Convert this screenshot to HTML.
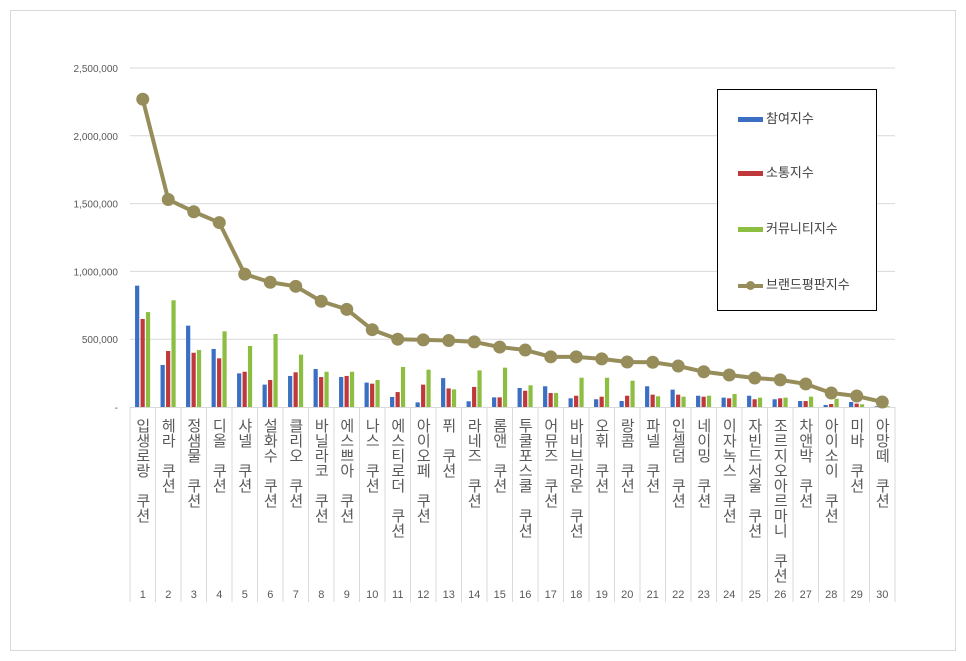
<!DOCTYPE html>
<html><head><meta charset="utf-8"><style>
html,body{margin:0;padding:0;background:#fff;}
body{width:966px;height:661px;overflow:hidden;font-family:"Liberation Sans","Noto Sans CJK KR",sans-serif;}
svg text{font-family:"Liberation Sans","Noto Sans CJK KR",sans-serif;}
.lab{position:absolute;top:418px;writing-mode:vertical-lr;text-orientation:upright;font-size:15px;line-height:18px;color:#595959;font-family:"Noto Sans CJK KR",sans-serif;letter-spacing:0px;width:18px;}
</style></head><body>
<div style="position:absolute;left:10px;top:10px;width:944px;height:639px;border:1px solid #d9d9d9;"></div>
<svg id="chart" width="966" height="661" style="position:absolute;left:0;top:0"></svg>
<div id="labels"></div>
<div style="position:absolute;left:717px;top:89px;width:158px;height:220px;border:1px solid #000;background:#fff;font-size:13px;color:#404040;font-family:'Liberation Sans','Noto Sans CJK KR',sans-serif;">
 <div style="position:absolute;left:20px;top:20px;height:18px;line-height:18px;"><span style="display:inline-block;width:25px;height:5px;background:#3a6fc4;vertical-align:middle;margin-right:3px"></span>참여지수</div>
 <div style="position:absolute;left:20px;top:74px;height:18px;line-height:18px;"><span style="display:inline-block;width:25px;height:5px;background:#c0393a;vertical-align:middle;margin-right:3px"></span>소통지수</div>
 <div style="position:absolute;left:20px;top:130px;height:18px;line-height:18px;"><span style="display:inline-block;width:25px;height:5px;background:#8cbe42;vertical-align:middle;margin-right:3px"></span>커뮤니티지수</div>
 <div style="position:absolute;left:20px;top:186px;height:18px;line-height:18px;"><span style="display:inline-block;position:relative;width:25px;height:4px;background:#978d5b;vertical-align:middle;margin-right:3px"><span style="position:absolute;left:8px;top:-3px;width:9px;height:9px;border-radius:50%;background:#978d5b"></span></span>브랜드평판지수</div>
</div>
<script>
const categories=["입생로랑 쿠션","헤라 쿠션","정샘물 쿠션","디올 쿠션","샤넬 쿠션","설화수 쿠션","클리오 쿠션","바닐라코 쿠션","에스쁘아 쿠션","나스 쿠션","에스티로더 쿠션","아이오페 쿠션","퓌 쿠션","라네즈 쿠션","롬앤 쿠션","투쿨포스쿨 쿠션","어뮤즈 쿠션","바비브라운 쿠션","오휘 쿠션","랑콤 쿠션","파넬 쿠션","인셀덤 쿠션","네이밍 쿠션","이자녹스 쿠션","자빈드서울 쿠션","조르지오아르마니 쿠션","차앤박 쿠션","아이소이 쿠션","미바 쿠션","아망떼 쿠션"];
const participation=[895000,310000,600000,428000,248000,165000,229000,280000,221000,180000,74000,34000,213000,42000,71000,140000,153000,64000,57000,44000,153000,128000,83000,69000,83000,57000,44000,15000,37000,5000];
const communication=[649000,413000,400000,359000,260000,199000,256000,221000,229000,172000,110000,165000,137000,148000,71000,120000,103000,83000,76000,83000,91000,91000,76000,64000,57000,64000,44000,22000,25000,4000];
const community=[700000,787000,420000,558000,450000,538000,386000,260000,260000,199000,295000,275000,130000,270000,290000,160000,103000,216000,216000,194000,79000,76000,83000,96000,69000,69000,76000,61000,20000,6000];
const brand=[2270000,1530000,1440000,1360000,980000,920000,890000,780000,720000,570000,500000,495000,490000,480000,442000,420000,370000,370000,355000,332000,330000,302000,260000,236000,214000,200000,170000,103000,81000,37000];
const yTicks=[0,500000,1000000,1500000,2000000,2500000];
const yTickLabels=["-","500,000","1,000,000","1,500,000","2,000,000","2,500,000"];

const NS="http://www.w3.org/2000/svg";
const svg=document.getElementById('chart');
const X0=130,X1=895,Y0=407,Y1=68,YMAX=2500000;
const colW=(X1-X0)/categories.length;
function y(v){return Y0-(v/YMAX)*(Y0-Y1);}
function xc(i){return X0+colW*(i+0.5);}
function mk(t,a){const e=document.createElementNS(NS,t);for(const k in a)e.setAttribute(k,a[k]);svg.appendChild(e);return e;}

yTicks.forEach((t,i)=>{
  if(t>0){const g=mk('line',{x1:X0,x2:X1,y1:y(t),y2:y(t),stroke:'#d9d9d9','stroke-width':1});
  
  }
  const tx=mk('text',{x:118,y:y(t)+4,'text-anchor':'end','font-size':10,fill:'#595959'});
  tx.textContent=yTickLabels[i];
  
  
});
const ax=mk('line',{x1:X0,x2:X1,y1:Y0+0.5,y2:Y0+0.5,stroke:'#d9d9d9'});


for(let i=0;i<=categories.length;i++){
  const l=mk('line',{x1:X0+colW*i,x2:X0+colW*i,y1:Y0,y2:602,stroke:'#d9d9d9'});
  
  
}
const series=[[participation,'#3a6fc4',-5.5,'bar-participation'],[communication,'#c0393a',0,'bar-communication'],[community,'#8cbe42',5.4,'bar-community']];
series.forEach(([arr,col,off,name])=>{
  arr.forEach((v,i)=>{
    const r=mk('rect',{x:xc(i)+off-2.2,y:y(v),width:4.2,height:Y0-y(v),fill:col});
    
    
  });
});
const pts=brand.map((v,i)=>xc(i)+','+y(v)).join(' ');
const pl=mk('polyline',{points:pts,fill:'none',stroke:'#978d5b','stroke-width':4,'stroke-linejoin':'round'});


brand.forEach((v,i)=>{
  const c=mk('circle',{cx:xc(i),cy:y(v),r:6.5,fill:'#978d5b'});
  
  
  const n=mk('text',{x:xc(i),y:598,'text-anchor':'middle','font-size':11,fill:'#595959'});
  n.textContent=String(i+1);
  
  
});
const lab=document.getElementById('labels');
categories.forEach((c,i)=>{
  const d=document.createElement('div');
  d.className='lab';
  d.style.left=(xc(i)-9)+'px';
  d.textContent=c;
  
  
  lab.appendChild(d);
});
</script>
</body></html>
